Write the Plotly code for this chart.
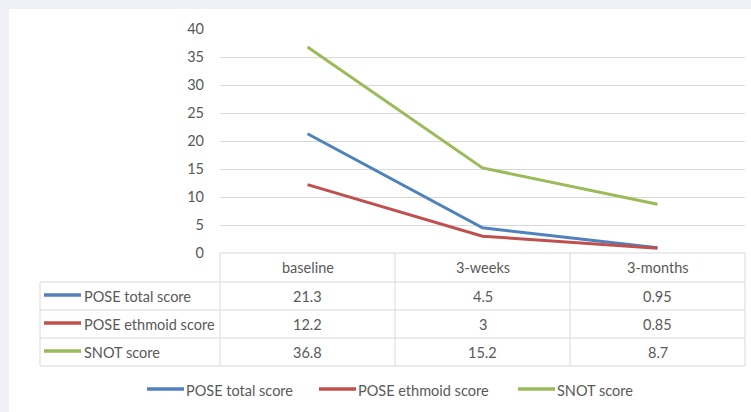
import plotly.graph_objects as go

# Scores over follow-up
categories = ["baseline", "3-weeks", "3-months"]
series_names = ["POSE total score", "POSE ethmoid score", "SNOT score"]
pose_total = [21.3, 4.5, 0.95]
pose_ethmoid = [12.2, 3, 0.85]
snot = [36.8, 15.2, 8.7]
y_ticks = [0, 5, 10, 15, 20, 25, 30, 35, 40]

series_values = [pose_total, pose_ethmoid, snot]
colors = ["#4f81bd", "#c0504d", "#9bbb59"]

W, H = 751, 412
PLOT_L, PLOT_R, PLOT_T, PLOT_B = 220, 745, 29, 253
TEXT = "#595959"
GRID = "#d9d9d9"
FONT = "Lato"


def px(x):
    return (x - PLOT_L) / (PLOT_R - PLOT_L)


def py(y):
    return (PLOT_B - y) / (PLOT_B - PLOT_T)


fig = go.Figure()
x_idx = list(range(len(categories)))
for name, vals, col in zip(series_names, series_values, colors):
    fig.add_trace(go.Scatter(
        x=x_idx, y=vals, mode="lines", name=name,
        line=dict(color=col, width=3), showlegend=False,
    ))

shapes = []
annotations = []

# white chart panel
shapes.append(dict(type="rect", xref="paper", yref="paper", layer="below",
                   x0=px(9), x1=px(W + 5), y0=py(9), y1=py(H + 5),
                   fillcolor="white", line=dict(width=0)))

# data table grid
row_edges = [253, 282, 310, 338, 366]
col_edges = [220, 395, 570, 745]
line_style = dict(color=GRID, width=1)
for i, y in enumerate(row_edges):
    x0 = 220 if i == 0 else 40
    shapes.append(dict(type="line", xref="paper", yref="paper",
                       x0=px(x0), x1=px(745), y0=py(y), y1=py(y), line=line_style))
for x in col_edges:
    shapes.append(dict(type="line", xref="paper", yref="paper",
                       x0=px(x), x1=px(x), y0=py(253), y1=py(366), line=line_style))
shapes.append(dict(type="line", xref="paper", yref="paper",
                   x0=px(40), x1=px(40), y0=py(282), y1=py(366), line=line_style))

font = dict(family=FONT, size=14.5, color=TEXT)

# header row
for j, cat in enumerate(categories):
    cx = (col_edges[j] + col_edges[j + 1]) / 2
    annotations.append(dict(xref="paper", yref="paper", x=px(cx), y=py(267.5),
                            text=cat, showarrow=False, font=font,
                            xanchor="center", yanchor="middle"))

# series rows with legend keys
for i, (name, vals, col) in enumerate(zip(series_names, series_values, colors)):
    cy = (row_edges[i + 1] + row_edges[i + 2]) / 2
    shapes.append(dict(type="line", xref="paper", yref="paper",
                       x0=px(44), x1=px(81), y0=py(cy - 1), y1=py(cy - 1),
                       line=dict(color=col, width=3.5)))
    annotations.append(dict(xref="paper", yref="paper", x=px(82), y=py(cy),
                            text=name, showarrow=False, font=font,
                            xanchor="left", yanchor="middle"))
    for j, v in enumerate(vals):
        cx = (col_edges[j] + col_edges[j + 1]) / 2
        annotations.append(dict(xref="paper", yref="paper", x=px(cx), y=py(cy),
                                text=f"{v:g}", showarrow=False, font=font,
                                xanchor="center", yanchor="middle"))

# legend below the table
legend_x = [147, 319, 518]
for lx, name, col in zip(legend_x, series_names, colors):
    shapes.append(dict(type="line", xref="paper", yref="paper",
                       x0=px(lx), x1=px(lx + 37), y0=py(389), y1=py(389),
                       line=dict(color=col, width=3.5)))
    annotations.append(dict(xref="paper", yref="paper", x=px(lx + 37), y=py(390),
                            text=name, showarrow=False, font=font,
                            xanchor="left", yanchor="middle"))

fig.update_layout(
    width=W, height=H,
    margin=dict(l=PLOT_L, r=W - PLOT_R, t=PLOT_T, b=H - PLOT_B, pad=0),
    paper_bgcolor="#eff1f7",
    plot_bgcolor="white",
    showlegend=False,
    shapes=shapes,
    annotations=annotations,
    xaxis=dict(range=[-0.5, len(categories) - 0.5], showgrid=False,
               zeroline=False, showticklabels=False, showline=False,
               fixedrange=True),
    yaxis=dict(range=[0, 40], tickvals=y_ticks, showgrid=True, gridcolor=GRID,
               gridwidth=1, zeroline=False, showline=False, ticks="",
               ticklabelstandoff=15, tickfont=font, fixedrange=True),
)

fig.write_html("out.html")
